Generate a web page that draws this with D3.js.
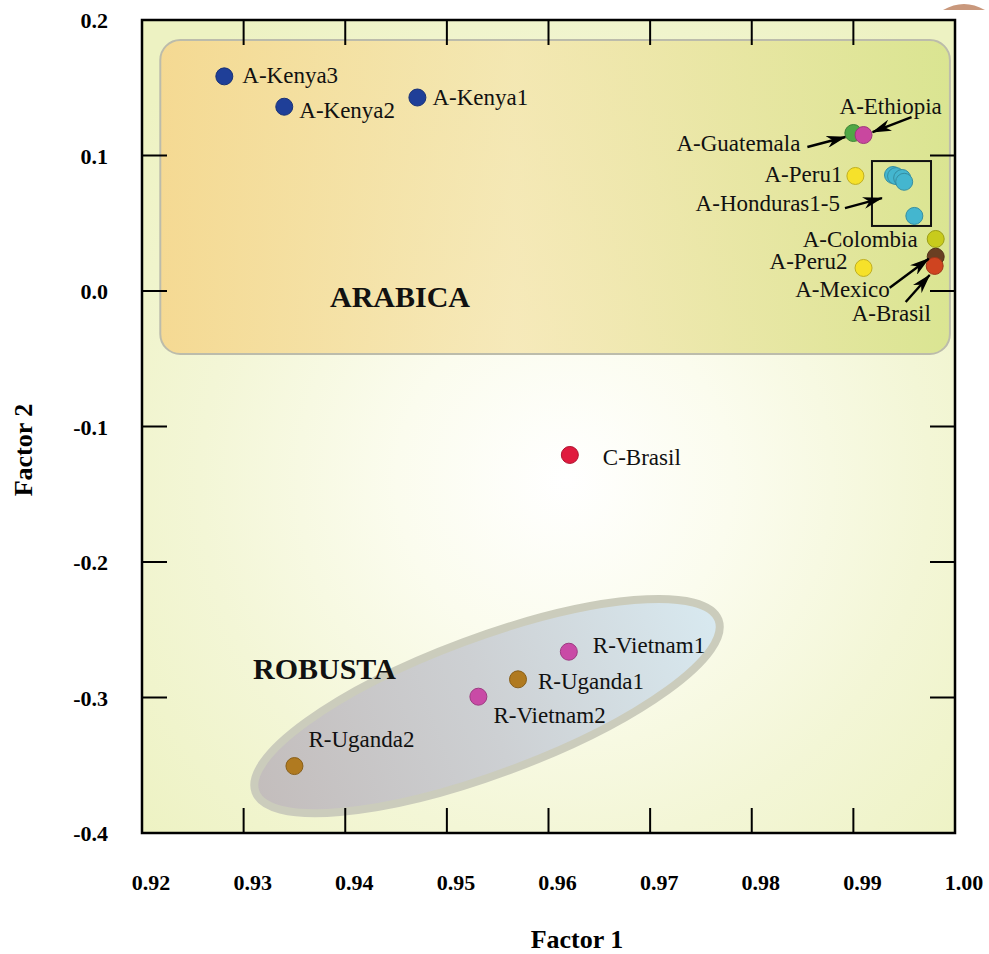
<!DOCTYPE html>
<html>
<head>
<meta charset="utf-8">
<script src="https://cdn.jsdelivr.net/npm/d3@7"></script>
<style>
  html, body { margin: 0; padding: 0; background: #ffffff; }
  svg { display: block; }
</style>
</head>
<body>
<div id="chart"></div>
<script>
// ---------------- DATA ----------------
const names = [
  "A-Kenya3", "A-Kenya2", "A-Kenya1",
  "A-Guatemala", "A-Ethiopia", "A-Peru1",
  "A-Honduras1", "A-Honduras2", "A-Honduras3", "A-Honduras4", "A-Honduras5",
  "A-Colombia", "A-Mexico", "A-Brasil", "A-Peru2",
  "C-Brasil",
  "R-Vietnam1", "R-Uganda1", "R-Vietnam2", "R-Uganda2"
];
const factor1 = [
  0.9281, 0.9340, 0.9471,
  0.9900, 0.9910, 0.9902,
  0.9939, 0.9942, 0.9948, 0.9950, 0.9960,
  0.9981, 0.9981, 0.9980, 0.9910,
  0.9621,
  0.9620, 0.9570, 0.9531, 0.9350
];
const factor2 = [
  0.1584, 0.1360, 0.1428,
  0.1166, 0.1151, 0.0849,
  0.0856, 0.0848, 0.0834, 0.0806, 0.0554,
  0.0384, 0.0253, 0.0185, 0.0170,
  -0.1210,
  -0.2662, -0.2866, -0.2994, -0.3506
];
const origin = [
  "kenya", "kenya", "kenya",
  "guatemala", "ethiopia", "peru",
  "honduras", "honduras", "honduras", "honduras", "honduras",
  "colombia", "mexico", "abrasil", "peru",
  "cbrasil",
  "vietnam", "uganda", "vietnam", "uganda"
];
const xTicks = [0.92, 0.93, 0.94, 0.95, 0.96, 0.97, 0.98, 0.99, 1.00];
const xTickLabels = ["0.92", "0.93", "0.94", "0.95", "0.96", "0.97", "0.98", "0.99", "1.00"];
const yTicks = [0.2, 0.1, 0.0, -0.1, -0.2, -0.3, -0.4];
const yTickLabels = ["0.2", "0.1", "0.0", "-0.1", "-0.2", "-0.3", "-0.4"];

// group regions (data units)
const arabicaBox = { x0: 0.9218, x1: 0.9995, y0: -0.0465, y1: 0.1852 };
const robustaCenter = { x: 0.95395, y: -0.3063 };
const hondurasBox = { x0: 0.99183, x1: 0.99764, y0: 0.0480, y1: 0.0959 };

// ---------------- STYLES / LAYOUT ----------------
const colorMap = {
  kenya: "#1f3f98", guatemala: "#4fa846", ethiopia: "#c9479f", peru: "#f6e12a",
  honduras: "#44b6cf", colombia: "#c8cb1c", mexico: "#6a3f22", abrasil: "#cf4420",
  cbrasil: "#e01a3e", vietnam: "#c94aa6", uganda: "#b07a20"
};
const labelPlace = {
  "A-Kenya3": [18, 7, "start"], "A-Kenya2": [15, 11, "start"], "A-Kenya1": [15, 7, "start"],
  "A-Guatemala": [-53, 18, "end"], "A-Ethiopia": [-24, -21, "start"], "A-Peru1": [-13, 6, "end"],
  "A-Colombia": [-18, 8, "end"], "A-Peru2": [-16, 1, "end"], "A-Mexico": [-46, 40, "end"],
  "A-Brasil": [-83, 55, "start"], "C-Brasil": [33, 10, "start"],
  "R-Vietnam1": [24, 1, "start"], "R-Uganda1": [20, 10, "start"],
  "R-Vietnam2": [15, 26, "start"], "R-Uganda2": [14, -19, "start"]
};
const arrowPlace = {
  "A-Guatemala": [-46, 14, -8, 4],
  "A-Ethiopia": [48, -18, 9, -3],
  "A-Mexico": [-46, 31, -7, 2],
  "A-Brasil": [-29, 36, -5, 9]
};

const W = 989, H = 954;
const pL = 142, pR = 955, pT = 20, pB = 833;

const x = d3.scaleLinear().domain([0.92, 1.00]).range([pL, pR]);
const y = d3.scaleLinear().domain([-0.4, 0.2]).range([pB, pT]);

const svg = d3.select("#chart").append("svg").attr("width", W).attr("height", H);
const defs = svg.append("defs");

const bg = defs.append("radialGradient").attr("id", "bgGrad")
  .attr("gradientUnits", "userSpaceOnUse")
  .attr("cx", 565).attr("cy", 480).attr("r", 560);
[[0, "#ffffff"], [0.3, "#fbfcee"], [0.65, "#f3f6d6"], [1, "#edf2c2"]].forEach(([o, c]) =>
  bg.append("stop").attr("offset", o).attr("stop-color", c));

const ag = defs.append("linearGradient").attr("id", "arabGrad")
  .attr("x1", 0).attr("x2", 1).attr("y1", 0).attr("y2", 0);
[[0, "#f5d890", 0.95], [0.45, "#f4e3a8", 0.75], [1, "#d9e48f", 0.95]].forEach(([o, c, op]) =>
  ag.append("stop").attr("offset", o).attr("stop-color", c).attr("stop-opacity", op));

const rg = defs.append("linearGradient").attr("id", "robGrad")
  .attr("x1", 0).attr("x2", 1).attr("y1", 0).attr("y2", 0);
[[0, "#c3bdbc"], [0.5, "#cdd0d3"], [1, "#d8e9f0"]].forEach(([o, c]) =>
  rg.append("stop").attr("offset", o).attr("stop-color", c));

defs.append("marker").attr("id", "arrowHead")
  .attr("markerUnits", "userSpaceOnUse")
  .attr("viewBox", "0 0 20 12").attr("refX", 19).attr("refY", 6)
  .attr("markerWidth", 20).attr("markerHeight", 12).attr("orient", "auto")
  .append("path").attr("d", "M0,0 L20,6 L0,12 L6,6 Z").attr("fill", "#000");

svg.append("path").attr("d", "M943,10 Q964,-2 985,10 Z").attr("fill", "#c9987c");

svg.append("rect").attr("x", pL).attr("y", pT)
  .attr("width", pR - pL).attr("height", pB - pT).attr("fill", "url(#bgGrad)");

svg.append("rect")
  .attr("x", x(arabicaBox.x0)).attr("y", y(arabicaBox.y1))
  .attr("width", x(arabicaBox.x1) - x(arabicaBox.x0))
  .attr("height", y(arabicaBox.y0) - y(arabicaBox.y1))
  .attr("rx", 20).attr("ry", 20)
  .attr("fill", "url(#arabGrad)")
  .attr("stroke", "#bcbcab").attr("stroke-width", 2);

svg.append("ellipse")
  .attr("transform", `translate(${x(robustaCenter.x)},${y(robustaCenter.y)}) rotate(-20.4)`)
  .attr("rx", 247).attr("ry", 68)
  .attr("fill", "url(#robGrad)")
  .attr("stroke", "#cbccbc").attr("stroke-width", 8);

const serif = "'Liberation Serif', 'Times New Roman', serif";
svg.append("text").attr("x", 330).attr("y", 307)
  .attr("font-family", serif).attr("font-weight", "bold")
  .attr("font-size", 30).attr("fill", "#111").text("ARABICA");
svg.append("text").attr("x", 253).attr("y", 679)
  .attr("font-family", serif).attr("font-weight", "bold")
  .attr("font-size", 30).attr("fill", "#111").text("ROBUSTA");

const tickLen = 25;
const tk = svg.append("g").attr("stroke", "#000").attr("stroke-width", 2);
xTicks.slice(1, -1).forEach(v => {
  tk.append("line").attr("x1", x(v)).attr("x2", x(v)).attr("y1", pB).attr("y2", pB - tickLen);
  tk.append("line").attr("x1", x(v)).attr("x2", x(v)).attr("y1", pT).attr("y2", pT + tickLen);
});
yTicks.slice(1, -1).forEach(v => {
  tk.append("line").attr("x1", pL).attr("x2", pL + tickLen).attr("y1", y(v)).attr("y2", y(v));
  tk.append("line").attr("x1", pR).attr("x2", pR - tickLen).attr("y1", y(v)).attr("y2", y(v));
});

svg.append("rect").attr("x", pL).attr("y", pT)
  .attr("width", pR - pL).attr("height", pB - pT)
  .attr("fill", "none").attr("stroke", "#000").attr("stroke-width", 2.5);

svg.append("g").selectAll("text").data(xTicks).join("text")
  .attr("x", d => x(d) + 9).attr("y", 890)
  .attr("text-anchor", "middle").attr("font-family", serif).attr("font-weight", "bold")
  .attr("font-size", 22).attr("fill", "#000")
  .text((d, i) => xTickLabels[i]);
svg.append("g").selectAll("text").data(yTicks).join("text")
  .attr("x", 108).attr("y", d => y(d) + 8)
  .attr("text-anchor", "end").attr("font-family", serif).attr("font-weight", "bold")
  .attr("font-size", 22).attr("fill", "#000")
  .text((d, i) => yTickLabels[i]);

svg.append("text").attr("x", 577).attr("y", 948).attr("text-anchor", "middle")
  .attr("font-family", serif).attr("font-weight", "bold").attr("font-size", 26)
  .attr("fill", "#000").text("Factor 1");
svg.append("text").attr("transform", "translate(32,450) rotate(-90)").attr("text-anchor", "middle")
  .attr("font-family", serif).attr("font-weight", "bold").attr("font-size", 26)
  .attr("fill", "#000").text("Factor 2");

svg.append("rect")
  .attr("x", x(hondurasBox.x0)).attr("y", y(hondurasBox.y1))
  .attr("width", x(hondurasBox.x1) - x(hondurasBox.x0))
  .attr("height", y(hondurasBox.y0) - y(hondurasBox.y1))
  .attr("fill", "none").attr("stroke", "#111").attr("stroke-width", 2);

const idx = d3.range(names.length);
svg.append("g").selectAll("circle").data(idx).join("circle")
  .attr("cx", i => x(factor1[i])).attr("cy", i => y(factor2[i]))
  .attr("r", 8.5)
  .attr("fill", i => colorMap[origin[i]])
  .attr("stroke", i => d3.color(colorMap[origin[i]]).darker(0.7))
  .attr("stroke-width", 1);

const lg = svg.append("g").attr("font-family", serif).attr("font-size", 23).attr("fill", "#111");
idx.forEach(i => {
  const p = labelPlace[names[i]];
  if (!p) return;
  lg.append("text")
    .attr("x", x(factor1[i]) + p[0]).attr("y", y(factor2[i]) + p[1])
    .attr("text-anchor", p[2]).text(names[i]);
});
const hbx = x(hondurasBox.x0), hby = y(hondurasBox.y1);
lg.append("text").attr("x", hbx - 32).attr("y", hby + 50).attr("text-anchor", "end").text("A-Honduras1-5");

const ar = svg.append("g").attr("stroke", "#000").attr("stroke-width", 2.4);
idx.forEach(i => {
  const a = arrowPlace[names[i]];
  if (!a) return;
  const px = x(factor1[i]), py = y(factor2[i]);
  ar.append("line").attr("x1", px + a[0]).attr("y1", py + a[1])
    .attr("x2", px + a[2]).attr("y2", py + a[3]).attr("marker-end", "url(#arrowHead)");
});
ar.append("line").attr("x1", hbx - 27).attr("y1", hby + 47)
  .attr("x2", hbx + 10).attr("y2", hby + 37).attr("marker-end", "url(#arrowHead)");
</script>
</body>
</html>
